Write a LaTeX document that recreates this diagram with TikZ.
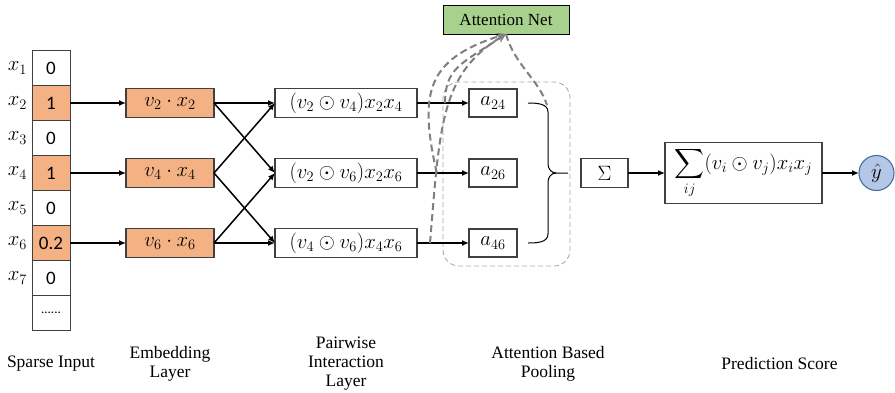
\documentclass[tikz,border=0pt]{standalone}
\usepackage{exscale}
\usepackage{fontspec}
\setmainfont{Liberation Serif}
\newfontfamily\cellfont{Carlito}
\usetikzlibrary{positioning,arrows.meta,calc}

\definecolor{embfill}{HTML}{F4B183}
\definecolor{netfill}{HTML}{A9D18E}
\definecolor{outfill}{HTML}{B4C7E7}
\definecolor{outline}{HTML}{41719C}
\definecolor{flowgray}{HTML}{7F7F7F}
\definecolor{poolgray}{HTML}{A6A6A6}
\definecolor{boxline}{HTML}{404040}

\begin{document}
\begin{tikzpicture}[
x=1pt, y=1pt,
node distance=56pt,
every node/.style={font=\fontsize{20}{22}\selectfont, inner sep=0pt, outer sep=0pt},
cell/.style={draw=boxline, line width=0.9pt, fill=white,
minimum width=38pt, minimum height=35pt,
font=\cellfont\fontsize{19}{19}\selectfont},
hotcell/.style={cell, fill=embfill},
embbox/.style={draw=boxline, line width=1.1pt, fill=embfill,
minimum width=88pt, minimum height=29pt},
pairbox/.style={draw=boxline, line width=1.1pt, fill=white,
minimum width=142pt, minimum height=29pt},
attbox/.style={draw=boxline, line width=1.1pt, fill=white,
minimum width=48pt, minimum height=28pt},
arr/.style={-{Latex[length=7pt,width=6pt]}, line width=1.5pt},
attflow/.style={draw=flowgray, line width=2pt, dash pattern=on 7pt off 4pt},
layer/.style={align=center, font=\fontsize{17.5}{19}\selectfont}
]

\useasboundingbox (0,0) rectangle (895,-392);

% sparse input
\node[cell] (c1) at (51,-68) {0};
\node[hotcell, below=0pt of c1] (c2) {1};
\node[cell, below=0pt of c2] (c3) {0};
\node[hotcell, below=0pt of c3] (c4) {1};
\node[cell, below=0pt of c4] (c5) {0};
\node[hotcell, below=0pt of c5] (c6) {0.2};
\node[cell, below=0pt of c6] (c7) {0};
\node[cell, below=0pt of c7] (c8) {\fontsize{13}{13}\selectfont ......};

\node[left=5pt of c1] (x1) {$x_1$};
\node[left=5pt of c2] (x2) {$x_2$};
\node[left=5pt of c3] (x3) {$x_3$};
\node[left=5pt of c4] (x4) {$x_4$};
\node[left=5pt of c5] (x5) {$x_5$};
\node[left=5pt of c6] (x6) {$x_6$};
\node[left=5pt of c7] (x7) {$x_7$};

% embedding layer
\node[embbox, right=56pt of c2] (e2) {$v_2 \cdot x_2$};
\node[embbox, right=56pt of c4] (e4) {$v_4 \cdot x_4$};
\node[embbox, right=56pt of c6] (e6) {$v_6 \cdot x_6$};

% pairwise interaction
\node[pairbox, right=61pt of e2] (p24) {$(v_2 \odot v_4)x_2x_4$};
\node[pairbox, right=61pt of e4] (p26) {$(v_2 \odot v_6)x_2x_6$};
\node[pairbox, right=61pt of e6] (p46) {$(v_4 \odot v_6)x_4x_6$};

% attention based pooling
\node[attbox, right=52pt of p24] (a24) {$a_{24}$};
\node[attbox, right=52pt of p26] (a26) {$a_{26}$};
\node[attbox, right=52pt of p46] (a46) {$a_{46}$};

\node[draw=black, line width=1pt, fill=netfill,
minimum width=126pt, minimum height=29pt,
above=55pt of a24, xshift=13pt,
font=\fontsize{17}{19}\selectfont] (attn)
{Attention Net};

\node[draw=boxline, line width=1.1pt,
minimum width=47pt, minimum height=29pt,
right=64pt of a26] (sig)
{$\Sigma$};

% prediction score
\node[draw=boxline, line width=1.1pt,
minimum width=157pt, minimum height=61pt,
right=37pt of sig] (fm)
{$\displaystyle\sum_{ij}(v_i \odot v_j)x_ix_j$};

\node[circle, draw=outline, line width=1.1pt, fill=outfill,
minimum size=35pt,
right=37pt of fm] (yhat)
{$\hat{y}$};

\draw[poolgray, line width=0.8pt, dash pattern=on 5pt off 3pt, rounded corners=16pt]
([xshift=-26pt,yshift=7pt]a24.north west) rectangle ([xshift=53pt,yshift=-9pt]a46.south east);

\draw[arr] (c2) -- (e2);
\draw[arr] (c4) -- (e4);
\draw[arr] (c6) -- (e6);

\draw[arr] (e2.east) -- (p24.west);
\draw[arr] (e2.east) -- (p26.west);
\draw[arr] (e4.east) -- (p24.west);
\draw[arr] (e4.east) -- (p46.west);
\draw[arr] (e6.east) -- (p26.west);
\draw[arr] (e6.east) -- (p46.west);

\draw[arr] (p24) -- (a24);
\draw[arr] (p26) -- (a26);
\draw[arr] (p46) -- (a46);

% brace
\coordinate (brc) at ($(a26.east)+(31pt,0)$);
\coordinate (btop) at ($(a24.east)+(30pt,-2pt)$);
\draw[line width=1pt] ($(a24.east)+(11pt,0)$) to[out=0,in=90] ++(20pt,-9pt)
-- ($(a26.east)+(31pt,9pt)$) to[out=-90,in=180] ++(8pt,-9pt) -- ++(12pt,0);
\draw[line width=1pt] ($(a26.east)+(39pt,0)$) to[out=180,in=90] ++(-8pt,-9pt)
-- ($(a46.east)+(31pt,9pt)$) to[out=-90,in=0] ++(-20pt,-9pt);

\draw[arr] (sig) -- (fm);
\draw[arr] (fm) -- (yhat);

% attention flows
\coordinate (s24) at ($(p24.east)!0.54!(a24.west)$);
\coordinate (s26) at ($(p26.east)!0.38!(a26.west)$);
\coordinate (s46) at ($(p46.east)!0.25!(a46.west)$);
\draw[attflow, -{Stealth[length=9pt,width=8pt]}] (s24) .. controls +(0,35) and +(-45,-30) .. (attn.south);
\draw[attflow, -{Stealth[length=9pt,width=8pt]}] (s26) .. controls +(-18,80) and +(-80,-25) .. (attn.south);
\draw[attflow, -{Stealth[length=9pt,width=8pt]}] (s46) .. controls +(10,120) and +(-65,-40) .. (attn.south);
\draw[attflow] (attn.south) .. controls +(8,-30) and +(-8,25) .. (btop);

% layer names
\node[layer] (lsparse) at (c8 |- 0,-364) {Sparse Input};
\node[layer] (lemb) at (e6 |- 0,-364) {Embedding\\Layer};
\node[layer] (lpair) at (p46 |- 0,-364) {Pairwise\\Interaction\\Layer};
\node[layer] (lpool) at (brc |- 0,-364) {Attention Based\\Pooling};
\node[layer, xshift=36pt] (lpred) at (fm |- 0,-364) {Prediction Score};

\end{tikzpicture}
\end{document}
